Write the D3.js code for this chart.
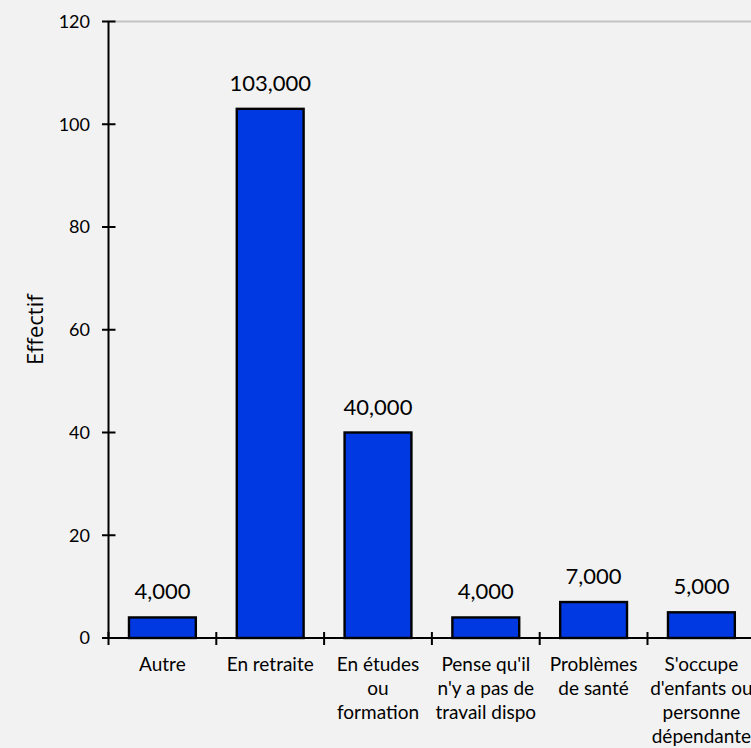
<!DOCTYPE html>
<html><head><meta charset="utf-8">
<script src="https://cdn.jsdelivr.net/npm/d3@7"></script>
<style>html,body{margin:0;padding:0;background:#f2f2f2;}svg{display:block;}</style>
</head><body>
<script>
const categories = [
  ["Autre"],
  ["En retraite"],
  ["En études", "ou", "formation"],
  ["Pense qu'il", "n'y a pas de", "travail dispo"],
  ["Problèmes", "de santé"],
  ["S'occupe", "d'enfants ou", "personne", "dépendante"]
];
const values = [4, 103, 40, 4, 7, 5];
const valueLabels = ["4,000", "103,000", "40,000", "4,000", "7,000", "5,000"];
const yTicks = [0, 20, 40, 60, 80, 100, 120];
const yTitle = "Effectif";

const W = 751, H = 748;
const svg = d3.select("body").append("svg").attr("width", W).attr("height", H);
svg.append("rect").attr("width", W).attr("height", H).attr("fill", "#f2f2f2");

const x0 = 108.5, y0 = 638, yTop = 21.5;
const x = d3.scaleBand().domain(d3.range(categories.length)).range([x0, x0 + 6 * 107.8]).padding(0);
const y = d3.scaleLinear().domain([0, 120]).range([y0, yTop]);
const font = "Lato, 'Gill Sans', sans-serif";

// top gridline
svg.append("line").attr("x1", x0).attr("x2", W).attr("y1", y(120)).attr("y2", y(120))
  .attr("stroke", "#c3c3c3").attr("stroke-width", 2);

// bars
const bw = x.bandwidth() * 0.62;
svg.selectAll("rect.bar").data(values).enter().append("rect")
  .attr("class", "bar")
  .attr("x", (d, i) => x(i) + (x.bandwidth() - bw) / 2)
  .attr("y", d => y(d))
  .attr("width", bw)
  .attr("height", d => y(0) - y(d))
  .attr("fill", "#0039e2").attr("stroke", "#000").attr("stroke-width", 2.4);

// value labels
svg.selectAll("text.val").data(values).enter().append("text")
  .attr("x", (d, i) => x(i) + x.bandwidth() / 2)
  .attr("y", d => y(d) - 18)
  .attr("text-anchor", "middle")
  .attr("font-family", font).attr("font-size", 22).attr("fill", "#000")
  .text((d, i) => valueLabels[i]);

// y axis
const yAxis = svg.append("g");
yAxis.append("line").attr("x1", x0).attr("x2", x0).attr("y1", y(120)).attr("y2", y(0))
  .attr("stroke", "#000").attr("stroke-width", 2);
yTicks.forEach(t => {
  yAxis.append("line").attr("x1", x0 - 6.5).attr("x2", x0 + 7).attr("y1", y(t)).attr("y2", y(t))
    .attr("stroke", "#000").attr("stroke-width", 2);
  yAxis.append("text").attr("x", 90).attr("y", y(t)).attr("dy", "0.35em")
    .attr("text-anchor", "end").attr("font-family", font).attr("font-size", 18).attr("fill", "#000")
    .text(t);
});

// x axis
const xAxis = svg.append("g");
xAxis.append("line").attr("x1", x0 - 6).attr("x2", W).attr("y1", y0).attr("y2", y0)
  .attr("stroke", "#000").attr("stroke-width", 2);
d3.range(categories.length + 1).forEach(i => {
  const xx = x0 + i * x.step();
  xAxis.append("line").attr("x1", xx).attr("x2", xx).attr("y1", y0 - 6).attr("y2", y0 + 7)
    .attr("stroke", "#000").attr("stroke-width", 2);
});
categories.forEach((lines, i) => {
  const t = xAxis.append("text").attr("text-anchor", "middle")
    .attr("font-family", font).attr("font-size", 19).attr("fill", "#000");
  lines.forEach((l, j) => {
    t.append("tspan").attr("x", x(i) + x.bandwidth() / 2).attr("y", 671 + j * 24).text(l);
  });
});

// y title
svg.append("text").attr("transform", `translate(43,${(y(0) + y(120)) / 2}) rotate(-90)`)
  .attr("text-anchor", "middle").attr("font-family", "'Open Sans', sans-serif")
  .attr("font-size", 22).attr("fill", "#000").text(yTitle);
</script>
</body></html>
